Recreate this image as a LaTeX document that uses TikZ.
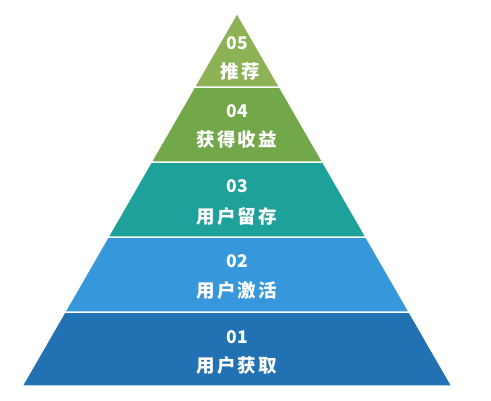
\documentclass[tikz,border=0pt]{standalone}
\usepackage{fontspec}
\usepackage{xcolor}
\newfontfamily\cjk[LetterSpace=11]{Noto Sans CJK SC}
\newfontfamily\numfont{Noto Sans CJK SC}
\definecolor{lvlone}{HTML}{2272B3}
\definecolor{lvltwo}{HTML}{3797DB}
\definecolor{lvlthree}{HTML}{1FA19B}
\definecolor{lvlfour}{HTML}{72A84A}
\definecolor{lvlfive}{HTML}{8DB255}

\begin{document}
\begin{tikzpicture}[x=1pt,y=-1pt,
    layer/.style={draw=white,line width=1.5pt,line join=round},
    num/.style={text=white,font=\numfont\bfseries\fontsize{17.5}{17.5}\selectfont},
    stage/.style={text=white,font=\cjk\bfseries\fontsize{18.5}{18.5}\selectfont}]
    \useasboundingbox (0,0) rectangle (491,400);
    % Layers
    \filldraw[layer,fill=lvlone] (22,386) -- (452,386) -- (409.3,312) -- (64.7,312) -- cycle;
    \filldraw[layer,fill=lvltwo] (64.7,312) -- (409.3,312) -- (366.1,237) -- (107.9,237) -- cycle;
    \filldraw[layer,fill=lvlthree] (107.9,237) -- (366.1,237) -- (322.9,162) -- (151.1,162) -- cycle;
    \filldraw[layer,fill=lvlfour] (151.1,162) -- (322.9,162) -- (279.7,87) -- (194.3,87) -- cycle;
    \filldraw[layer,fill=lvlfive] (194.3,87) -- (279.7,87) -- (237,13) -- cycle;

    % Texts
    \node[num] (n05) at (237,43) {05};
    \node[stage] (t05) at (240,71) {推荐};
    \node[num] (n04) at (237,111.5) {04};
    \node[stage] (t04) at (237,139.5) {获得收益};
    \node[num] (n03) at (237,186) {03};
    \node[stage] (t03) at (237,216.5) {用户留存};
    \node[num] (n02) at (237,261) {02};
    \node[stage] (t02) at (237,290) {用户激活};
    \node[num] (n01) at (237,337.5) {01};
    \node[stage] (t01) at (237,365) {用户获取};
\end{tikzpicture}
\end{document}
